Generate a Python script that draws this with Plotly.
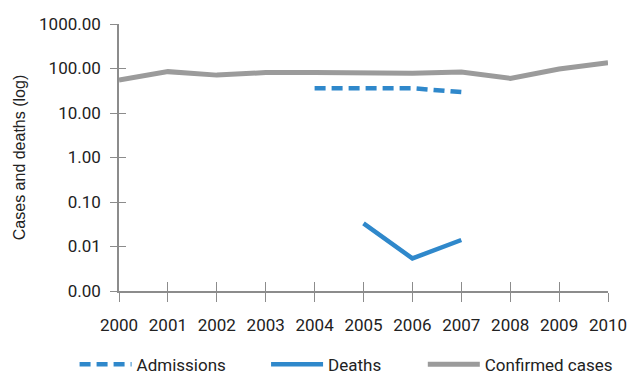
import plotly.graph_objects as go

years = list(range(2000, 2011))
confirmed_cases = [55, 85, 71, 81, 81, 80, 78, 83, 60, 97, 135]
admission_years = [2004, 2005, 2006, 2007]
admissions = [36, 36, 36, 29.5]
death_years = [2005, 2006, 2007]
deaths = [0.033, 0.0054, 0.014]

y_tickvals = [0.001, 0.01, 0.1, 1, 10, 100, 1000]
y_ticktext = ["0.00", "0.01", "0.10", "1.00", "10.00", "100.00", "1000.00"]

BLUE = "#2f88cb"
GREY = "#9b9b9b"
AXIS = "#8c8c8c"
NARROW = "Roboto, Liberation Sans, sans-serif"


def narrow(size):
    return dict(family=NARROW, size=size, color="#222222")


def legend_box(x):
    return dict(
        orientation="h", x=x, xanchor="left", xref="container",
        y=0.04, yanchor="middle", yref="container",
        font=narrow(17), itemwidth=52,
    )


fig = go.Figure()
fig.add_trace(go.Scatter(
    x=admission_years, y=admissions, name="Admissions", mode="lines",
    line=dict(color=BLUE, width=4.5, dash="11px,6px"), legend="legend",
))
fig.add_trace(go.Scatter(
    x=death_years, y=deaths, name="Deaths", mode="lines",
    line=dict(color=BLUE, width=4.5), legend="legend2",
))
fig.add_trace(go.Scatter(
    x=years, y=confirmed_cases, name="Confirmed cases", mode="lines",
    line=dict(color=GREY, width=5), legend="legend3",
))
# invisible trace bound to the overlay axes so their inner tick halves render
fig.add_trace(go.Scatter(
    x=[2000], y=[1], xaxis="x2", yaxis="y2", mode="markers",
    marker=dict(opacity=0), showlegend=False, hoverinfo="skip",
))

fig.update_layout(
    width=632, height=380,
    margin=dict(l=119, r=24, t=24, b=89, autoexpand=False),
    plot_bgcolor="white", paper_bgcolor="white",
    font=narrow(17),
    xaxis=dict(
        range=[2000, 2010], tickvals=years, ticks="outside", ticklen=9,
        tickcolor=AXIS, tickwidth=1.2, showline=True, linecolor=AXIS,
        linewidth=1.5, showgrid=False, zeroline=False,
        tickfont=narrow(17), ticklabelstandoff=9,
    ),
    yaxis=dict(
        type="log", range=[-3, 3], tickvals=y_tickvals, ticktext=y_ticktext,
        ticks="outside", ticklen=7, tickcolor=AXIS, tickwidth=1.2,
        showline=True, linecolor=AXIS, linewidth=1.5, showgrid=False,
        zeroline=False, tickfont=narrow(17), ticklabelstandoff=6,
        title=dict(text="Cases and deaths (log)",
                   font=dict(family="Liberation Sans, Arial, sans-serif",
                             size=16, color="#222222"),
                   standoff=9),
    ),
    xaxis2=dict(
        overlaying="x", range=[2000, 2010], tickvals=years, ticks="inside",
        ticklen=9, tickcolor=AXIS, tickwidth=1.2, showticklabels=False,
        showgrid=False, zeroline=False, showline=False,
    ),
    yaxis2=dict(
        overlaying="y", type="log", range=[-3, 3], tickvals=y_tickvals,
        ticks="inside", ticklen=7, tickcolor=AXIS, tickwidth=1.2,
        showticklabels=False, showgrid=False, zeroline=False, showline=False,
    ),
    legend=legend_box(0.118),
    legend2=legend_box(0.421),
    legend3=legend_box(0.669),
    showlegend=True,
)

fig.write_html("out.html")
